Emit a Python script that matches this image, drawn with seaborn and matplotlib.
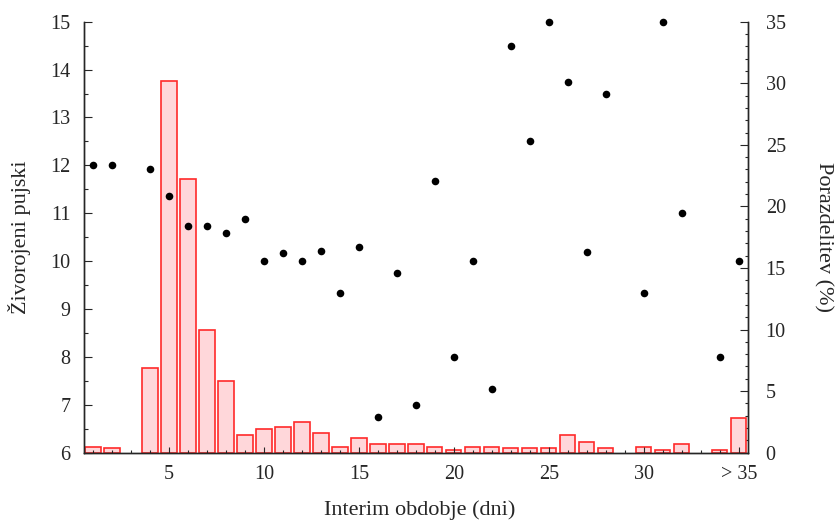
import matplotlib
matplotlib.use("Agg")
import matplotlib.pyplot as plt
import seaborn as sns
import pandas as pd
from matplotlib.ticker import MultipleLocator, FixedLocator

# ---- data ----
days = [1, 2, 4, 5, 6, 7, 8, 9, 10, 11, 12, 13, 14, 15, 16, 17, 18, 19, 20,
        21, 22, 23, 24, 25, 26, 27, 28, 30, 31, 32, 34, 35]
distribution_pct = [0.5, 0.35, 6.9, 30.2, 22.2, 10.0, 5.8, 1.4, 1.9, 2.1, 2.5, 1.6,
                    0.5, 1.2, 0.7, 0.7, 0.7, 0.5, 0.2, 0.5, 0.5, 0.35, 0.35, 0.35,
                    1.4, 0.9, 0.35, 0.5, 0.2, 0.7, 0.2, 2.8]
live_piglets = [12.0, 12.0, 11.92, 11.35, 10.73, 10.73, 10.58, 10.875, 10.0, 10.17,
                10.0, 10.22, 9.33, 10.29, 6.75, 9.75, 7.0, 11.67, 8.0, 10.0, 7.33,
                14.5, 12.5, 15.0, 13.75, 10.2, 13.5, 9.33, 15.0, 11.0, 8.0, 10.0]
xtick_pos = [5, 10, 15, 20, 25, 30, 35]
xtick_labels = ["5", "10", "15", "20", "25", "30", "> 35"]

x_label = "Interim obdobje (dni)"
left_label = "Živorojeni pujski"
right_label = "Porazdelitev (%)"

df = pd.DataFrame({"day": days, "pct": distribution_pct, "piglets": live_piglets})

# ---- style ----
sns.set_style("ticks")
plt.rcParams["font.family"] = ["Liberation Serif", "DejaVu Serif"]
plt.rcParams["axes.linewidth"] = 1.0

fig = plt.figure(figsize=(8.37, 5.22), dpi=100)
ax = fig.add_axes([0.0998, 0.1328, 0.894 - 0.0998, 0.9584 - 0.1328])
ax2 = ax.twinx()

# bars on right axis
sns.barplot(data=df, x="day", y="pct", ax=ax2, native_scale=True, width=0.8,
            color="#ffd7da", edgecolor="#ff2a2a", linewidth=1.2, saturation=1)

# dots on left axis
sns.scatterplot(data=df, x="day", y="piglets", ax=ax, color="black", s=30,
                linewidth=0, clip_on=False, zorder=5)

ax.set_zorder(ax2.get_zorder() + 1)
ax.patch.set_visible(False)

ax.set_xlim(0.5, 35.5)
ax.set_ylim(6, 15)
ax2.set_ylim(0, 35)

for a in (ax, ax2):
    a.spines["top"].set_visible(False)
    a.spines["left"].set_linewidth(1.0)
    a.spines["right"].set_linewidth(1.0)
    a.spines["bottom"].set_linewidth(1.0)

# x ticks
ax.xaxis.set_major_locator(FixedLocator(xtick_pos))
ax.set_xticklabels(xtick_labels)
ax.xaxis.set_minor_locator(MultipleLocator(1))
ax.tick_params(axis="x", which="major", direction="in", length=4.3, width=0.8,
               pad=9, labelsize=14.5, top=False)
ax.tick_params(axis="x", which="minor", direction="in", length=2.2, width=0.8, top=False)
ax2.tick_params(axis="x", which="both", bottom=False, top=False)

# left y ticks
ax.yaxis.set_major_locator(MultipleLocator(1))
ax.yaxis.set_minor_locator(MultipleLocator(0.5))
ax.tick_params(axis="y", which="major", direction="in", length=5.8, width=0.8,
               pad=9.5, labelsize=14.5, right=False)
ax.tick_params(axis="y", which="minor", direction="in", length=2.9, width=0.8, right=False)

# right y ticks
ax2.yaxis.set_major_locator(MultipleLocator(5))
ax2.yaxis.set_minor_locator(MultipleLocator(1))
ax2.tick_params(axis="y", which="major", direction="in", length=5.8, width=0.8,
                pad=12.5, labelsize=14.5, left=False)
ax2.tick_params(axis="y", which="minor", direction="in", length=2.4, width=0.8, left=False)

# labels
ax.set_xlabel(x_label, fontsize=16, va="baseline", ha="center")
ax.xaxis.set_label_coords(0.506, -0.1445)
ax.set_ylabel(left_label, fontsize=16, rotation=90, va="center", ha="center",
              rotation_mode="default")
ax.yaxis.set_label_coords(-0.097, 0.5)
ax2.set_xlabel("")
ax2.set_ylabel(right_label, fontsize=16, rotation=270, va="center", ha="center",
               rotation_mode="default")
ax2.yaxis.set_label_coords(1.113, 0.5)

fig.savefig("out.png", dpi=100)
